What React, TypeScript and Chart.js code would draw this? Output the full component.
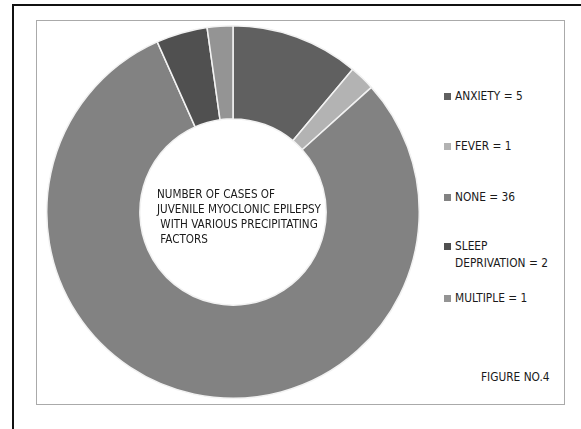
import React, { useEffect, useRef } from "react";
import { Chart, registerables } from "chart.js";

Chart.register(...registerables);

const categories = ["ANXIETY", "FEVER", "NONE", "SLEEP DEPRIVATION", "MULTIPLE"];
const legendLines = [["ANXIETY = 5"], ["FEVER = 1"], ["NONE = 36"], ["SLEEP", "DEPRIVATION = 2"], ["MULTIPLE = 1"]];
const caseCounts = [5, 1, 36, 2, 1];
const sliceColors = ["#606060", "#b3b3b3", "#828282", "#505050", "#949494"];
const centerLines = ["NUMBER OF CASES OF", "JUVENILE MYOCLONIC EPILEPSY", " WITH VARIOUS PRECIPITATING", " FACTORS"];
const figureLabel = "FIGURE NO.4";

const FONT = '"DejaVu Sans Condensed", "Liberation Sans", sans-serif';

export default function App() {
  const ref = useRef<HTMLCanvasElement | null>(null);

  useEffect(() => {
    if (!ref.current) return;
    const chart = new Chart(ref.current, {
      type: "doughnut",
      data: {
        labels: categories,
        datasets: [
          {
            data: caseCounts,
            backgroundColor: sliceColors,
            borderColor: "#f2f2f2",
            borderWidth: 1.5,
          },
        ],
      },
      options: {
        animation: false,
        responsive: false,
        cutout: "50%",
        layout: { padding: 0 },
        plugins: { legend: { display: false }, tooltip: { enabled: false } },
      },
    });
    return () => chart.destroy();
  }, []);

  const legendTops = [88, 138, 189, 238, 290];

  return (
    <div style={{ position: "fixed", left: 0, top: 0, width: 581, height: 429, background: "#fff", overflow: "hidden", fontFamily: FONT }}>
      <div style={{ position: "absolute", left: 12, top: 4, width: 600, height: 500, border: "2px solid #111", boxSizing: "border-box" }} />
      <div style={{ position: "absolute", left: 36, top: 20, width: 529, height: 385, border: "1.5px solid #aaa", boxSizing: "border-box" }} />
      <canvas ref={ref} width={374} height={374} style={{ position: "absolute", left: 46, top: 25, width: 374, height: 374 }} />
      <div style={{ position: "absolute", left: 157, top: 187, fontSize: 11.6, lineHeight: "15px", color: "#1a1a1a", whiteSpace: "pre" }}>
        {centerLines.map((l, i) => (
          <div key={i}>{l}</div>
        ))}
      </div>
      {legendLines.map((lines, i) => (
        <div key={i} style={{ position: "absolute", left: 444, top: legendTops[i], fontSize: 11.8, lineHeight: "17px", color: "#1a1a1a" }}>
          <span style={{ position: "absolute", left: 0, top: 5, width: 7, height: 7, background: sliceColors[i] }} />
          {lines.map((t, j) => (
            <div key={j} style={{ marginLeft: 11 }}>{t}</div>
          ))}
        </div>
      ))}
      <div style={{ position: "absolute", left: 481, top: 370, fontSize: 11.8, lineHeight: "15px", color: "#1a1a1a" }}>{figureLabel}</div>
    </div>
  );
}
